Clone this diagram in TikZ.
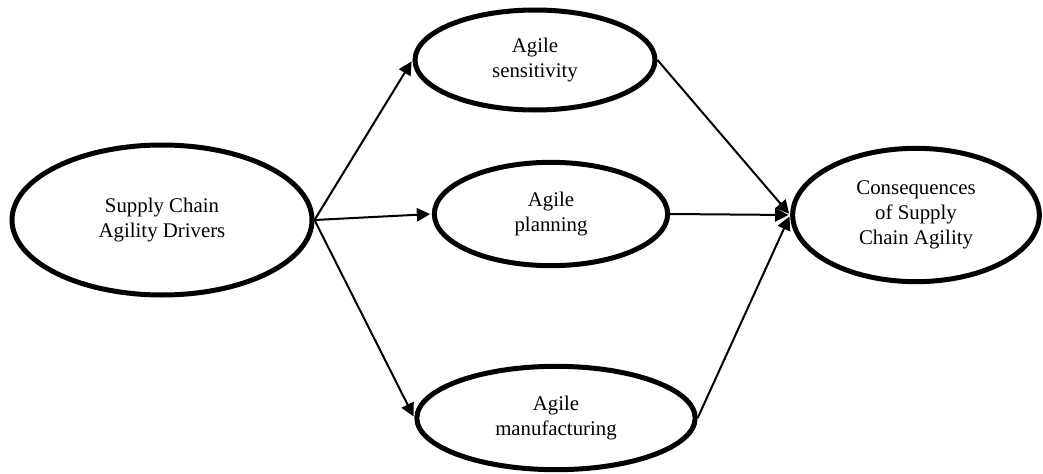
\documentclass[tikz,border=0pt]{standalone}
\usepackage{fontspec}
\setmainfont{Liberation Serif}
\usepackage{tikz}
\usetikzlibrary{arrows.meta,shapes.geometric,positioning}
\tikzset{
    %Define standard arrow tip
    >={Triangle[length=8pt,width=8pt]},
    %Define style for the constructs
    construct/.style={
           ellipse,
           draw=black, line width=3pt,
           inner sep=0pt,
           align=center,
           font=\fontsize{12.5}{15}\selectfont,
           fill=white},
    % Define arrow style
    pil/.style={
           ->,
           line width=1.2pt,
           shorten >=1pt},
}
\begin{document}
\begin{tikzpicture}[x=0.6pt,y=-0.6pt]
\useasboundingbox (0,0) rectangle (1043,474);

 %nodes
\node[construct, minimum width=180pt, minimum height=90pt] (drivers) at (162,220) {Supply Chain\\Agility Drivers};
\node[construct, minimum width=144pt, minimum height=60pt] (sens) at (535,60) {Agile\\sensitivity};
\node[construct, minimum width=140pt, minimum height=62pt] (plan) at (551,214) {Agile\\planning};
\node[construct, minimum width=167pt, minimum height=62pt] (manu) at (556,418) {Agile\\manufacturing};
\node[construct, minimum width=148pt, minimum height=80pt] (cons) at (916,215) {Consequences\\of Supply\\Chain Agility};

 %arrows
\draw[pil] (drivers.east) -- (sens.west);
\draw[pil] (drivers.east) -- (plan.west);
\draw[pil] (drivers.east) -- (manu.west);
\draw[pil] (sens.east) -- (cons.west);
\draw[pil] (plan.east) -- (cons.west);
\draw[pil] (manu.east) -- (cons.west);

\end{tikzpicture}
\end{document}
